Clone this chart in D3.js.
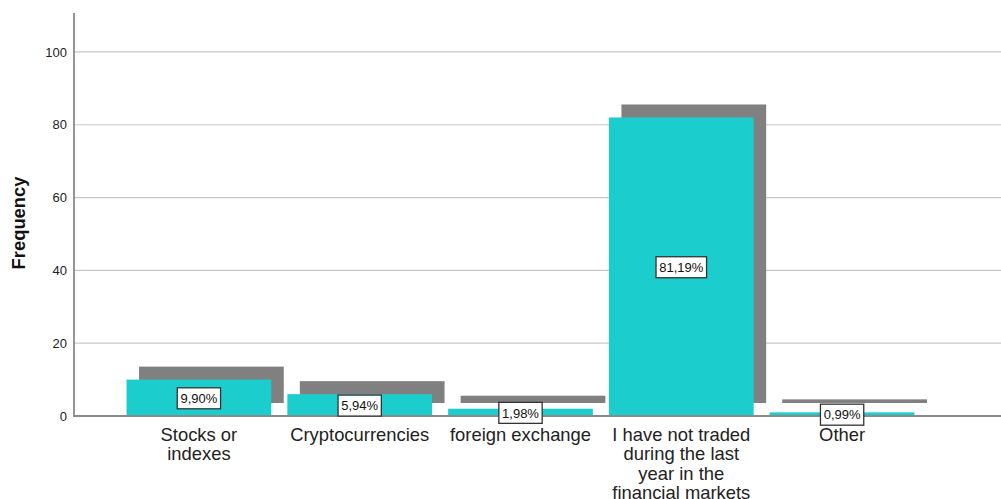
<!DOCTYPE html>
<html>
<head>
<meta charset="utf-8">
<script src="https://cdn.jsdelivr.net/npm/d3@7/dist/d3.min.js"></script>
<style>
  html, body { margin: 0; padding: 0; background: #fff; }
  svg { display: block; font-family: "Liberation Sans", Arial, sans-serif; }
</style>
</head>
<body>
<svg id="chart" width="1001" height="499"></svg>
<script>
// Survey answers: which markets the respondents traded in during the last year
const categories = [
  "Stocks or indexes",
  "Cryptocurrencies",
  "foreign exchange",
  "I have not traded during the last year in the financial markets",
  "Other"
];
const categoryLines = [
  ["Stocks or", "indexes"],
  ["Cryptocurrencies"],
  ["foreign exchange"],
  ["I have not traded", "during the last", "year in the", "financial markets"],
  ["Other"]
];
const frequencies = [10, 6, 2, 82, 1];
const yTicks = [0, 20, 40, 60, 80, 100];

const total = d3.sum(frequencies);
const pctFormat = v => d3.format(".2f")(v).replace(".", ",") + "%";

const svg = d3.select("#chart");
const W = 1001, H = 499;
const axisX = 74, baseY = 416, topY = 13;

const x = d3.scaleBand()
  .domain(categories)
  .range([118.5, 922.5])
  .paddingInner(0.1)
  .paddingOuter(0.05);

const y = d3.scaleLinear()
  .domain([0, 110.7])
  .range([baseY, topY]);

// depth offset of the drop shadow behind each bar
const depthX = 12.5, depthY = 13;

// gridlines
svg.append("g")
  .selectAll("line")
  .data(yTicks.filter(t => t > 0))
  .join("line")
  .attr("x1", axisX).attr("x2", W)
  .attr("y1", d => y(d)).attr("y2", d => y(d))
  .attr("stroke", "#c8c8c8")
  .attr("stroke-width", 1.2);

// y axis
const yAxis = d3.axisLeft(y).tickValues(yTicks).tickSize(0).tickPadding(7);
const gy = svg.append("g")
  .attr("transform", `translate(${axisX},0)`)
  .call(yAxis);
gy.select(".domain").remove();
gy.selectAll("text")
  .attr("font-size", 13)
  .attr("fill", "#222")
  .attr("font-family", "'Liberation Sans', Arial, sans-serif");

svg.append("line")
  .attr("x1", axisX).attr("x2", axisX)
  .attr("y1", topY).attr("y2", baseY)
  .attr("stroke", "#8a8a8a").attr("stroke-width", 1.8);

// shadows
const bars = categories.map((c, i) => ({ c, v: frequencies[i], lines: categoryLines[i] }));

svg.append("g")
  .selectAll("rect")
  .data(bars)
  .join("rect")
  .attr("x", d => x(d.c) + depthX)
  .attr("y", d => y(d.v) - depthY)
  .attr("width", x.bandwidth())
  .attr("height", d => y(0) - y(d.v))
  .attr("fill", "#808080");

// bars
svg.append("g")
  .selectAll("rect")
  .data(bars)
  .join("rect")
  .attr("x", d => x(d.c))
  .attr("y", d => y(d.v))
  .attr("width", x.bandwidth())
  .attr("height", d => y(0) - y(d.v))
  .attr("fill", "#1ccdcd");

// x baseline
svg.append("line")
  .attr("x1", axisX - 1).attr("x2", W)
  .attr("y1", baseY).attr("y2", baseY)
  .attr("stroke", "#8a8a8a").attr("stroke-width", 2);

// category labels
const gx = svg.append("g");
bars.forEach(d => {
  const t = gx.append("text")
    .attr("x", x(d.c) + x.bandwidth() / 2)
    .attr("y", 441)
    .attr("text-anchor", "middle")
    .attr("font-size", 18.4)
    .attr("fill", "#222");
  d.lines.forEach((ln, k) => {
    t.append("tspan")
      .attr("x", x(d.c) + x.bandwidth() / 2)
      .attr("dy", k === 0 ? 0 : 19.3)
      .text(ln);
  });
});

// percentage labels
const gl = svg.append("g");
bars.forEach(d => {
  const cx = x(d.c) + x.bandwidth() / 2;
  const cy = (y(d.v) + y(0)) / 2 + 0.5;
  const g = gl.append("g");
  const txt = g.append("text")
    .attr("x", cx)
    .attr("y", cy)
    .attr("dy", "0.36em")
    .attr("text-anchor", "middle")
    .attr("font-size", 13)
    .attr("fill", "#111")
    .text(pctFormat(d.v / total * 100));
  const bb = txt.node().getBBox();
  g.insert("rect", "text")
    .attr("x", cx - bb.width / 2 - 3)
    .attr("y", cy - 10.5)
    .attr("width", bb.width + 6)
    .attr("height", 21)
    .attr("fill", "#fff")
    .attr("stroke", "#333")
    .attr("stroke-width", 1.3);
});

// y axis title
svg.append("text")
  .attr("transform", `translate(25,${(y(0) + y(100)) / 2 - 11}) rotate(-90)`)
  .attr("text-anchor", "middle")
  .attr("font-size", 18.4)
  .attr("font-weight", "bold")
  .attr("fill", "#111")
  .text("Frequency");
</script>
</body>
</html>
